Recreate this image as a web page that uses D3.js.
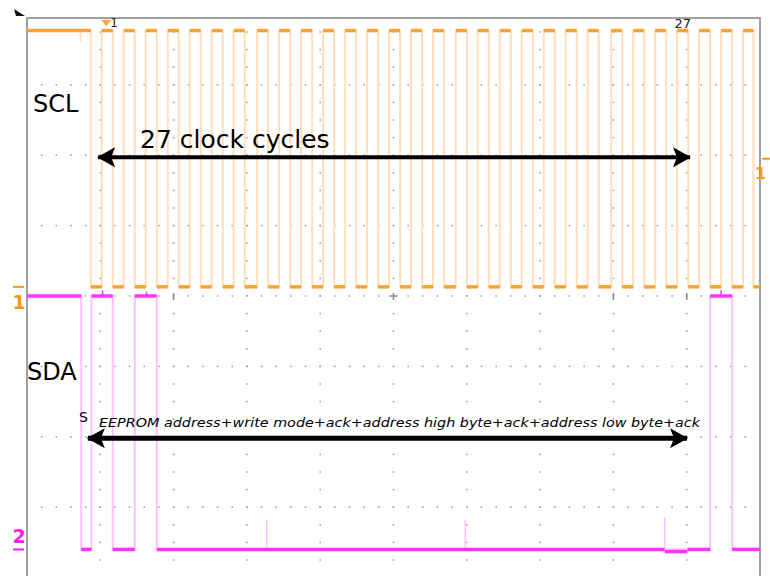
<!DOCTYPE html>
<html>
<head>
<meta charset="utf-8">
<script src="https://cdn.jsdelivr.net/npm/d3@7"></script>
<style>
  body { margin: 0; background: #fff; }
  svg { display: block; font-family: "DejaVu Sans", sans-serif; }
</style>
</head>
<body>
<script>
// I2C capture: SCL (ch1) and SDA (ch2), 10 us/div, 1 V/div

var w = 770;
var h = 576;

// SCL high intervals [rise, fall] in us
var sclHigh = [
  [0, 8.7], [10.2, 11.7], [13.2, 14.7], [16.2, 17.7], [19.2, 20.7], [22.2, 23.7],
  [25.2, 26.7], [28.2, 29.7], [31.4, 32.9], [34.4, 35.9], [37.4, 38.9], [40.4, 41.9],
  [43.4, 44.9], [46.4, 47.9], [49.4, 50.9], [52.4, 53.9], [55.4, 56.9], [58.5, 60.0],
  [61.5, 63.0], [64.5, 66.0], [67.5, 69.0], [70.5, 72.0], [73.5, 75.0], [76.5, 78.0],
  [79.7, 81.2], [82.7, 84.2], [85.7, 87.2], [88.7, 90.2], [91.7, 93.2], [94.7, 96.2],
  [97.7, 99.1]
];
// SDA high intervals in us
var sdaHigh = [[0, 7.4], [8.8, 11.7], [14.7, 17.7], [93.2, 96.2]];

// levels in volts, channel offsets in divisions
var sclVolts = { high: 3.64, low: 0 };
var sdaVolts = { high: 3.6, low: 0 };
var ch1Offset = 0.13;
var ch2Offset = -3.6;
var trigLevel = 1.82;

// glitches (time us, volts reached)
var sclSpikes = [[7.3, 3.47]];
var sdaSpikes = [[32.7, 0.42], [59.8, 0.42], [87.0, 0.45]];
var sdaBumps = [[10.3, 3.68], [16.3, 3.66], [94.7, 3.68]];

// annotations
var cursorPulses = [1, 27];
var centerTicks = [2, 5, 8, 9];

// Scales: x in us, y in divisions from screen centre
var xScale = d3.scaleLinear().domain([0, 100]).range([27, 760]);
var yScale = d3.scaleLinear().domain([-4, 4]).range([577.6, 14.4]);
var xDiv = d3.scaleLinear().domain([0, 10]).range([27, 760]);

function y1(v) { return yScale(ch1Offset + v); }
function y2(v) { return yScale(ch2Offset + v); }

var svg = d3.select("body").append("svg")
    .attr("width", w)
    .attr("height", h);

// Graticule dots
var grid = svg.append("g").attr("fill", "#9a9a9a");
d3.range(1, 10).forEach(function(c) {
  d3.range(1, 33).forEach(function(r) {
    grid.append("rect")
      .attr("x", xDiv(c) - 0.75).attr("y", yScale(4 - r / 4) - 0.75)
      .attr("width", 1.5).attr("height", 1.5);
  });
});
d3.range(1, 8).forEach(function(r) {
  d3.range(1, 50).forEach(function(c) {
    grid.append("rect")
      .attr("x", xDiv(c / 5) - 0.75).attr("y", yScale(4 - r) - 0.75)
      .attr("width", 1.5).attr("height", 1.5);
  });
});
centerTicks.forEach(function(c) {
  svg.append("line")
    .attr("x1", xDiv(c)).attr("x2", xDiv(c))
    .attr("y1", yScale(0) - 3).attr("y2", yScale(0) + 4)
    .attr("stroke", "#8a8a8a").attr("stroke-width", 1.5);
});
svg.append("line")
  .attr("x1", xDiv(5) - 4).attr("x2", xDiv(5) + 4)
  .attr("y1", yScale(0)).attr("y2", yScale(0))
  .attr("stroke", "#8a8a8a").attr("stroke-width", 1.5);

// Frame
svg.append("path")
  .attr("d", "M" + xDiv(0) + "," + h + "V18H" + xDiv(10) + "V" + h)
  .attr("fill", "none")
  .attr("stroke", "#a0a0a0")
  .attr("stroke-width", 2);

// step path through the high intervals
function stepPoints(intervals, hi, lo, end) {
  var pts = [];
  var t = 0;
  intervals.forEach(function(iv) {
    if (iv[0] > t) { pts.push([t, lo]); pts.push([iv[0], lo]); }
    pts.push([iv[0], hi]); pts.push([iv[1], hi]);
    pts.push([iv[1], lo]);
    t = iv[1];
  });
  if (t < end) pts.push([end, lo]);
  return pts;
}

function drawTrace(intervals, volts, yf, edgeCol, lineCol, spikes, bumps, dips) {
  var line = d3.line()
    .x(function(d) { return xScale(d[0]); })
    .y(function(d) { return yf(d[1]); });
  var g = svg.append("g");
  // edges (faint)
  g.append("path")
    .attr("d", line(stepPoints(intervals, volts.high, volts.low, 100)))
    .attr("fill", "none")
    .attr("stroke", edgeCol)
    .attr("stroke-width", 2);
  // spikes
  spikes.forEach(function(s) {
    var base = s[1] > 2 ? volts.high : volts.low;
    g.append("line")
      .attr("x1", xScale(s[0])).attr("x2", xScale(s[0]))
      .attr("y1", yf(base)).attr("y2", yf(s[1]))
      .attr("stroke", edgeCol).attr("stroke-width", 1.5);
  });
  // plateaus (bright)
  var t = 0;
  intervals.forEach(function(iv) {
    if (iv[0] > t) plateau(t, iv[0], volts.low);
    plateau(iv[0], iv[1], volts.high);
    t = iv[1];
  });
  if (t < 100) plateau(t, 100, volts.low);
  function plateau(a, b, v) {
    var segs = [[a, b, v]];
    (dips || []).forEach(function(dp) {
      if (v === volts.low && dp[0] > a && dp[1] < b) {
        segs = [[a, dp[0], v], [dp[0], dp[1], v + dp[2]], [dp[1], b, v]];
      }
    });
    segs.forEach(function(s) {
      g.append("line")
        .attr("x1", xScale(s[0])).attr("x2", xScale(s[1]))
        .attr("y1", yf(s[2])).attr("y2", yf(s[2]))
        .attr("stroke", lineCol)
        .attr("stroke-width", 3.5);
    });
  }
  bumps.forEach(function(b) {
    g.append("line")
      .attr("x1", xScale(b[0])).attr("x2", xScale(b[0]))
      .attr("y1", yf(volts.high)).attr("y2", yf(b[1]))
      .attr("stroke", lineCol).attr("stroke-width", 1.5);
  });
}

drawTrace(sclHigh, sclVolts, y1, "#ffdfba", "#f7a435", sclSpikes, [], []);
drawTrace(sdaHigh, sdaVolts, y2, "#ffc2ff", "#ff33ff", sdaSpikes, sdaBumps, [[87.0, 90.1, -0.03]]);

// Channel markers
svg.append("line")
  .attr("x1", 13).attr("x2", 24).attr("y1", y1(0)).attr("y2", y1(0))
  .attr("stroke", "#f49a1a").attr("stroke-width", 2);
svg.append("text")
  .attr("x", 19).attr("y", y1(0) + 22)
  .attr("text-anchor", "middle")
  .style("font-size", "19px").style("font-weight", "bold")
  .attr("fill", "#f49a1a")
  .text("1");
svg.append("line")
  .attr("x1", 13).attr("x2", 24).attr("y1", y2(0)).attr("y2", y2(0))
  .attr("stroke", "#ff1aff").attr("stroke-width", 2);
svg.append("text")
  .attr("x", 19).attr("y", y2(0) - 6)
  .attr("text-anchor", "middle")
  .style("font-size", "19px").style("font-weight", "bold")
  .attr("fill", "#ff1aff")
  .text("2");
// trigger level (right edge)
svg.append("line")
  .attr("x1", 762).attr("x2", 772).attr("y1", y1(trigLevel)).attr("y2", y1(trigLevel))
  .attr("stroke", "#f49a1a").attr("stroke-width", 2);
svg.append("text")
  .attr("x", 755).attr("y", y1(trigLevel) + 20)
  .style("font-size", "16px").style("font-weight", "bold")
  .attr("fill", "#f49a1a")
  .text("1");

// top-left corner marker
svg.append("path")
  .attr("d", "M14,9L25,16L16,16Z")
  .attr("fill", "#111");

// cursor markers at clock pulses 1 and 27
var p1 = sclHigh[cursorPulses[0]];
var px1 = xScale((p1[0] + p1[1]) / 2);
svg.append("path")
  .attr("d", "M" + (px1 - 6) + ",20L" + (px1 + 4) + ",20L" + (px1 - 1) + ",26Z")
  .attr("fill", "#f7a435");
svg.append("text")
  .attr("x", px1 + 3).attr("y", 27)
  .style("font-size", "12px")
  .attr("fill", "#222")
  .text(cursorPulses[0]);
var p27 = sclHigh[cursorPulses[1]];
svg.append("text")
  .attr("x", xScale((p27[0] + p27[1]) / 2)).attr("y", 28)
  .attr("text-anchor", "middle")
  .style("font-size", "13px")
  .attr("fill", "#222")
  .text(cursorPulses[1]);

// Arrow markers
var defs = svg.append("defs");
defs.append("marker")
  .attr("id", "head")
  .attr("viewBox", "0 0 18 20")
  .attr("markerUnits", "userSpaceOnUse")
  .attr("markerWidth", 18).attr("markerHeight", 20)
  .attr("refX", 17).attr("refY", 10)
  .attr("orient", "auto-start-reverse")
  .append("path")
  .attr("d", "M0,0L18,10L0,20L4,10Z")
  .attr("fill", "#000");

function arrow(t0, t1, div, width) {
  svg.append("line")
    .attr("x1", xScale(t0)).attr("x2", xScale(t1))
    .attr("y1", yScale(div)).attr("y2", yScale(div))
    .attr("stroke", "#000")
    .attr("stroke-width", width)
    .attr("marker-start", "url(#head)")
    .attr("marker-end", "url(#head)");
}
arrow(9.7, 90.45, 1.97, 4);
arrow(8.3, 90.05, -2.02, 5);

// Labels
svg.append("text")
  .attr("x", 33).attr("y", 112)
  .style("font-size", "24px")
  .attr("fill", "#000")
  .text("SCL");
svg.append("text")
  .attr("x", 27).attr("y", 380)
  .style("font-size", "24px")
  .attr("fill", "#000")
  .text("SDA");
svg.append("text")
  .attr("x", 140).attr("y", 148)
  .style("font-size", "25px")
  .attr("fill", "#000")
  .text("27 clock cycles");
svg.append("text")
  .attr("x", 79).attr("y", 422)
  .style("font-size", "14px")
  .attr("fill", "#000")
  .text("S");
svg.append("text")
  .attr("x", 99).attr("y", 427)
  .style("font-size", "13px")
  .style("font-style", "italic")
  .attr("textLength", 601)
  .attr("lengthAdjust", "spacingAndGlyphs")
  .attr("fill", "#000")
  .text("EEPROM address+write mode+ack+address high byte+ack+address low byte+ack");
</script>
</body>
</html>
